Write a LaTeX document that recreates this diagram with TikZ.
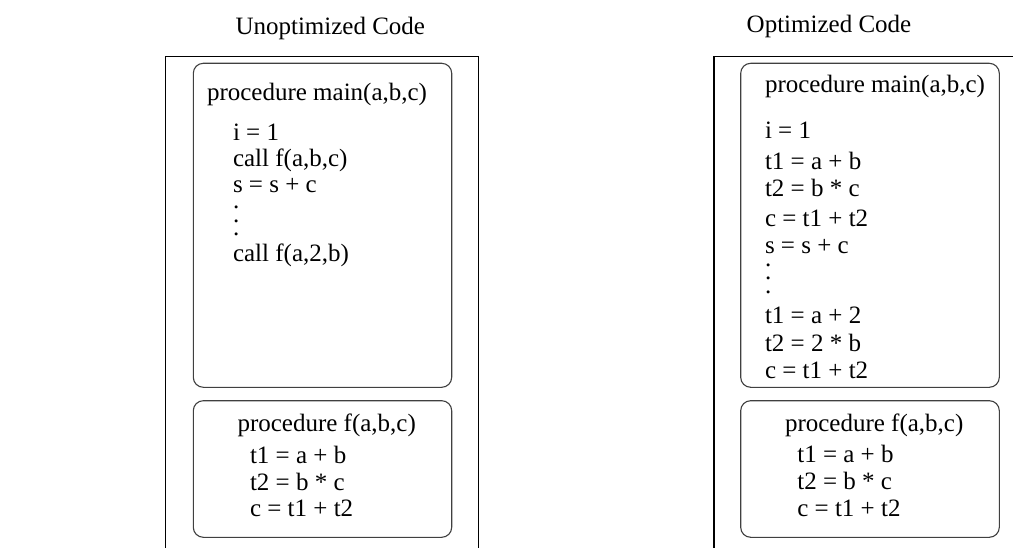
\documentclass[tikz,border=0pt]{standalone}
\usepackage{fontspec}
\setmainfont{Liberation Serif}
\begin{document}
\begin{tikzpicture}[x=1pt,y=-1pt,
  frame/.style={draw=black,line width=1.3pt},
  procbox/.style={draw=black!75,line width=1.1pt,rounded corners=10pt},
  txt/.style={anchor=base west,inner sep=0pt,outer sep=0pt,font=\fontsize{25}{30}\selectfont}]
\useasboundingbox (0,0) rectangle (1013,548);
% titles
\node[txt] (t1) at (235.5,34.3) {Unoptimized Code};
\node[txt] (t2) at (746.7,32.5) {Optimized Code};
% outer frames (open at the bottom)
\draw[frame] (165.7,549) -- (165.7,56.7) -- (478.3,56.7) -- (478.3,549);
\draw[frame] (714,549) -- (714,56.7) -- (1014,56.7);
% inner boxes
\draw[procbox] (193.3,63.3) rectangle (451.7,387.3);
\draw[procbox] (193.3,400.7) rectangle (451.7,537.3);
\draw[procbox] (740.7,63.3) rectangle (999.3,387.3);
\draw[procbox] (740.7,400.7) rectangle (999.3,537.3);
% left main
\node[txt] (lm0) at (207,100.5) {procedure main(a,b,c)};
\node[txt] (lm1) at (233,140.7) {i = 1};
\node[txt] (lm2) at (233,167) {call f(a,b,c)};
\node[txt] (lm3) at (233,193) {s = s + c};
\node[txt] (lm4) at (233,209) {.};
\node[txt] (lm5) at (233,222.5) {.};
\node[txt] (lm6) at (233,236) {.};
\node[txt] (lm7) at (233,262) {call f(a,2,b)};
% left f
\node[txt] (lf0) at (237.5,431) {procedure f(a,b,c)};
\node[txt] (lf1) at (250,463.3) {t1 = a + b};
\node[txt] (lf2) at (250,490) {t2 = b * c};
\node[txt] (lf3) at (250,516.5) {c = t1 + t2};
% right main
\node[txt] (rm0) at (765,93) {procedure main(a,b,c)};
\node[txt] (rm1) at (765,138.3) {i = 1};
\node[txt] (rm2) at (765,169.3) {t1 = a + b};
\node[txt] (rm3) at (765,196.7) {t2 = b * c};
\node[txt] (rm4) at (765,226.5) {c = t1 + t2};
\node[txt] (rm5) at (765,253.7) {s = s + c};
\node[txt] (rm6) at (765,266.2) {.};
\node[txt] (rm7) at (765,279.5) {.};
\node[txt] (rm8) at (765,293.7) {.};
\node[txt] (rm9) at (765,323.3) {t1 = a + 2};
\node[txt] (rm10) at (765,351.7) {t2 = 2 * b};
\node[txt] (rm11) at (765,378.3) {c = t1 + t2};
% right f
\node[txt] (rf0) at (785,431) {procedure f(a,b,c)};
\node[txt] (rf1) at (797.3,462.8) {t1 = a + b};
\node[txt] (rf2) at (797.3,489.5) {t2 = b * c};
\node[txt] (rf3) at (797.3,516.6) {c = t1 + t2};
\end{tikzpicture}
\end{document}
